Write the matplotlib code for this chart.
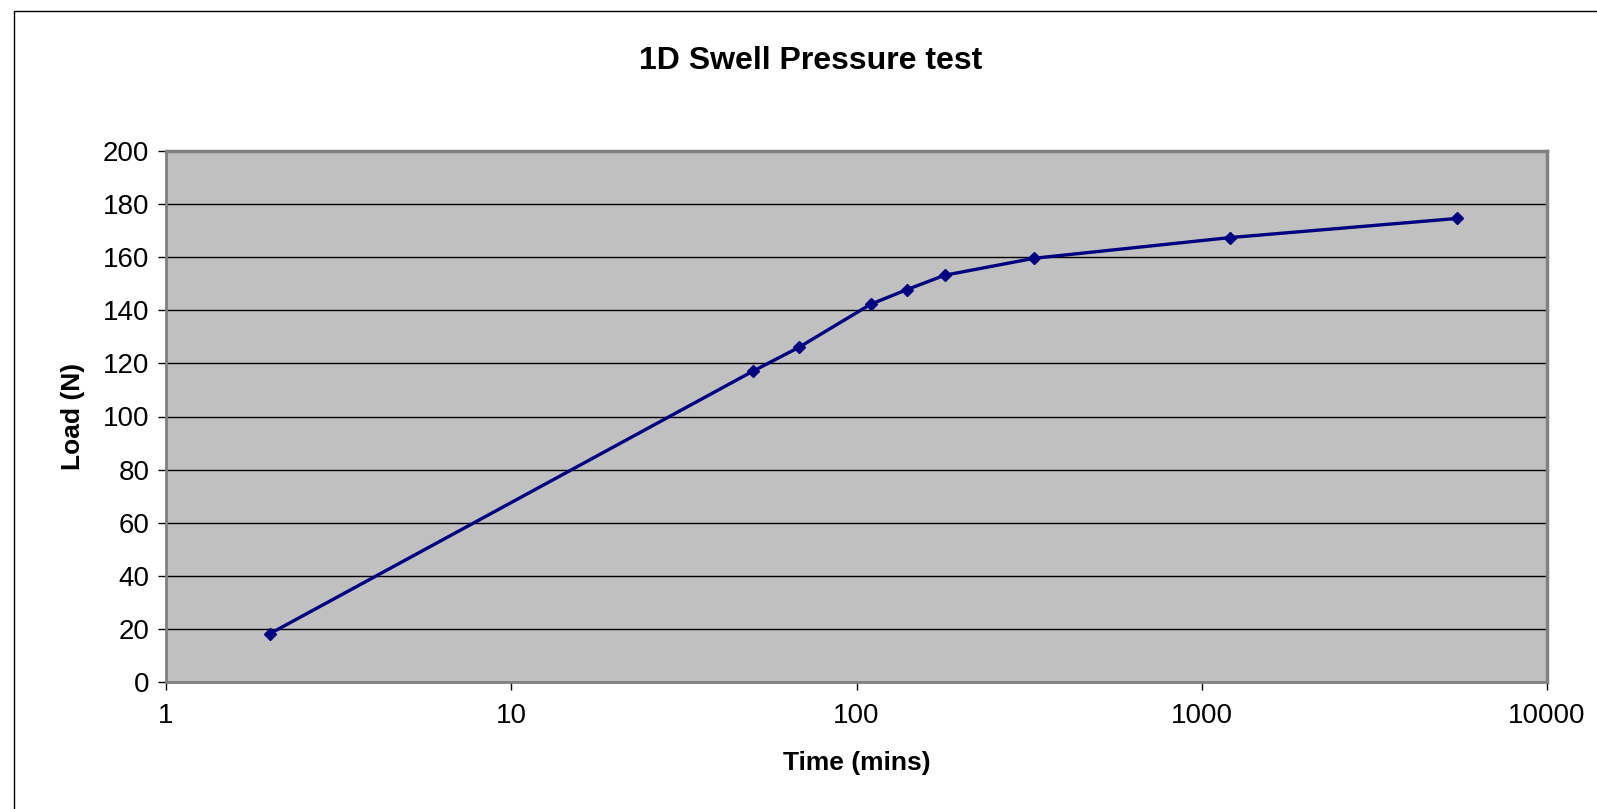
import matplotlib
matplotlib.use("Agg")
import matplotlib.pyplot as plt
from matplotlib.patches import Rectangle
from matplotlib.ticker import FixedLocator, FixedFormatter, NullLocator

plt.rcParams['font.family'] = ['Liberation Sans', 'DejaVu Sans']

# data
time_mins = [2, 50, 68, 110, 140, 180, 327, 1210, 5500]
load_n = [18.2, 117.0, 126.0, 142.3, 147.8, 153.2, 159.6, 167.4, 174.6]

x_ticks = [1, 10, 100, 1000, 10000]
x_labels = ["1", "10", "100", "1000", "10000"]
y_ticks = [0, 20, 40, 60, 80, 100, 120, 140, 160, 180, 200]

W, H = 1597, 809
fig = plt.figure(figsize=(W / 100, H / 100), dpi=100)
fig.patch.set_facecolor("white")

# outer chart frame
fig.patches.append(Rectangle((14 / W, -0.1), 1.2, 1 - 11 / H + 0.1,
                             transform=fig.transFigure, fill=False,
                             edgecolor="#000000", linewidth=1.0))

left, right = 166 / W, 1547 / W
bottom, top = 1 - 682 / H, 1 - 151 / H
ax = fig.add_axes([left, bottom, right - left, top - bottom])
ax.set_facecolor("#c0c0c0")

ax.plot(time_mins, load_n, color="#000080", linewidth=2.4, marker="D",
        markersize=6.5, markerfacecolor="#000080", markeredgecolor="#000080")

ax.set_xscale("log")
ax.set_xlim(1, 10000)
ax.set_ylim(0, 200)
ax.xaxis.set_major_locator(FixedLocator(x_ticks))
ax.xaxis.set_major_formatter(FixedFormatter(x_labels))
ax.xaxis.set_minor_locator(NullLocator())
ax.set_yticks(y_ticks)

ax.yaxis.grid(True, color="black", linewidth=1)
ax.set_axisbelow(True)

for s in ["left", "bottom"]:
    ax.spines[s].set_color("#808080")
    ax.spines[s].set_linewidth(2)
for s in ["top", "right"]:
    ax.spines[s].set_color("#808080")
    ax.spines[s].set_linewidth(2.5)

ax.tick_params(axis="both", direction="out", length=6, width=1, color="black",
               labelsize=20, pad=6)
ax.tick_params(axis="x", pad=9)

ax.set_xlabel("Time (mins)", fontsize=19, fontweight="bold", labelpad=16)
ax.set_ylabel("Load (N)", fontsize=19, fontweight="bold", labelpad=13)
fig.text((left + right) / 2 - 0.029, 1 - 61 / H, "1D Swell Pressure test",
         ha="center", va="center", fontsize=23, fontweight="bold")

fig.savefig("out.png", dpi=100)
